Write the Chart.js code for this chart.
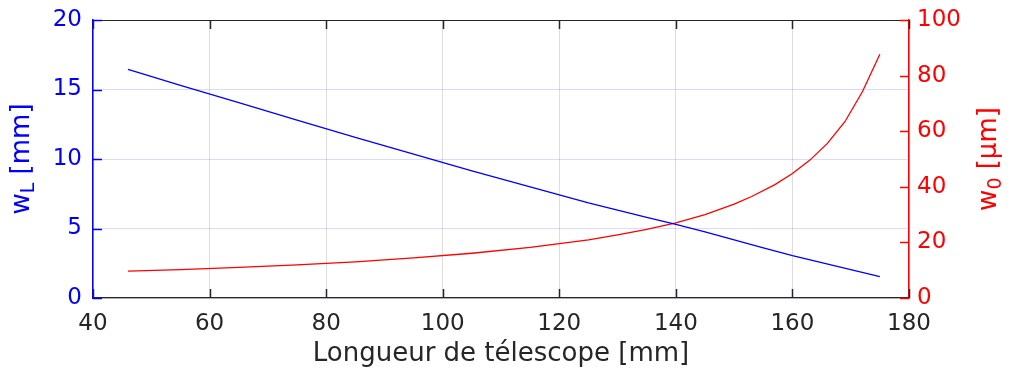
<!DOCTYPE html>
<html>
<head>
<meta charset="utf-8">
<script src="https://cdn.jsdelivr.net/npm/chart.js@4/dist/chart.umd.min.js"></script>
<style>
  body { margin: 0; background: #fff; }
  canvas { display: block; }
</style>
</head>
<body>
<canvas id="myChart" width="1011" height="370"></canvas>
<script>
// longueur de télescope [mm] et largeurs
const lengthL = [46, 55, 65, 75, 85, 95, 105, 115, 125, 135, 140, 145, 155, 160, 165, 175];
const waistL = [16.45, 15.3, 14.05, 12.8, 11.55, 10.35, 9.15, 8.0, 6.85, 5.8, 5.3, 4.75, 3.6, 3.04, 2.55, 1.53];

const length0 = [46, 55, 65, 75, 85, 95, 105, 115, 125, 130, 135, 140, 145, 150, 153, 157, 160, 163, 166, 169, 172, 175];
const waist0 = [9.7, 10.2, 11.0, 11.9, 13.0, 14.4, 16.1, 18.2, 20.9, 22.7, 24.7, 27.0, 30.0, 33.8, 36.5, 40.8, 44.8, 49.6, 55.6, 63.4, 74.2, 87.7];

const xTicks = [40, 60, 80, 100, 120, 140, 160, 180];
const leftTicks = [0, 5, 10, 15, 20];
const rightTicks = [0, 20, 40, 60, 80, 100];

const FONT = 'DejaVu Sans';
const DARK = '#262626';
const BLUE = '#0000ff';
const RED = '#ff0000';

const ctx = document.getElementById('myChart').getContext('2d');

// ticks vers l'intérieur, cadre du haut et titres des axes y avec indice
const frame = {
    id: 'frame',
    afterDraw(chart) {
        const c = chart.ctx;
        const a = chart.chartArea;
        const sx = chart.scales.x, sl = chart.scales.y, sr = chart.scales.y1;
        c.save();
        c.lineWidth = 1.2;
        c.strokeStyle = DARK;
        c.beginPath();
        c.moveTo(a.left, a.top + 0.5);
        c.lineTo(a.right, a.top + 0.5);
        c.stroke();
        c.lineWidth = 1.5;
        xTicks.forEach(v => {
            const px = Math.round(sx.getPixelForValue(v)) + 0.5;
            c.beginPath();
            c.moveTo(px, a.bottom); c.lineTo(px, a.bottom - 9);
            c.moveTo(px, a.top); c.lineTo(px, a.top + 9);
            c.stroke();
        });
        c.strokeStyle = BLUE;
        leftTicks.forEach(v => {
            const py = Math.round(sl.getPixelForValue(v)) + 0.5;
            c.beginPath(); c.moveTo(a.left, py); c.lineTo(a.left + 9, py); c.stroke();
        });
        c.strokeStyle = RED;
        rightTicks.forEach(v => {
            const py = Math.round(sr.getPixelForValue(v)) + 0.5;
            c.beginPath(); c.moveTo(a.right, py); c.lineTo(a.right - 9, py); c.stroke();
        });

        const cy = (a.top + a.bottom) / 2;
        drawLabel(c, 22, cy, [['w', 26, 0], ['L', 19, 7], [' [mm]', 26, 0]], BLUE);
        drawLabel(c, 989, cy, [['w', 26, 0], ['0', 19, 7], [' [µm]', 26, 0]], RED);
        c.restore();
    }
};

function drawLabel(c, x, y, parts, color) {
    c.save();
    c.translate(x, y);
    c.rotate(-Math.PI / 2);
    c.fillStyle = color;
    c.textBaseline = 'middle';
    c.textAlign = 'left';
    let total = 0;
    parts.forEach(p => { c.font = p[1] + 'px "' + FONT + '"'; total += c.measureText(p[0]).width; });
    let pos = -total / 2;
    parts.forEach(p => {
        c.font = p[1] + 'px "' + FONT + '"';
        c.fillText(p[0], pos, p[2]);
        pos += c.measureText(p[0]).width;
    });
    c.restore();
}

function fixWidth(w) {
    return s => { s.width = w; s.paddingTop = 0; s.paddingBottom = 0; };
}

new Chart(ctx, {
    type: 'line',
    data: {
        datasets: [{
            label: 'wL',
            data: lengthL.map((v, i) => ({ x: v, y: waistL[i] })),
            borderColor: BLUE,
            borderWidth: 1.3,
            pointRadius: 0,
            fill: false,
            yAxisID: 'y'
        }, {
            label: 'w0',
            data: length0.map((v, i) => ({ x: v, y: waist0[i] })),
            borderColor: RED,
            borderWidth: 1.3,
            pointRadius: 0,
            fill: false,
            yAxisID: 'y1'
        }]
    },
    options: {
        responsive: false,
        animation: false,
        layout: { padding: { top: 20, left: 0, right: 0, bottom: 0 } },
        plugins: { legend: { display: false }, tooltip: { enabled: false } },
        scales: {
            x: {
                type: 'linear',
                min: 40, max: 180,
                afterBuildTicks: s => { s.ticks = xTicks.map(v => ({ value: v })); },
                afterFit: s => { s.height = 72; s.paddingLeft = 0; s.paddingRight = 0; },
                ticks: { color: DARK, font: { family: FONT, size: 23 }, padding: 12, maxRotation: 0 },
                grid: { color: 'rgba(0,0,0,0.13)', drawTicks: false },
                border: { color: DARK, width: 1.2 },
                title: { display: true, text: 'Longueur de télescope [mm]', color: DARK, font: { family: FONT, size: 26 }, padding: { top: 0, bottom: 0 } }
            },
            y: {
                position: 'left',
                min: 0, max: 20,
                afterBuildTicks: s => { s.ticks = leftTicks.map(v => ({ value: v })); },
                afterFit: fixWidth(93),
                ticks: { color: BLUE, font: { family: FONT, size: 23 }, padding: 11 },
                grid: { color: 'rgba(0,0,255,0.14)', drawTicks: false },
                border: { color: BLUE, width: 1.5 }
            },
            y1: {
                position: 'right',
                min: 0, max: 100,
                afterBuildTicks: s => { s.ticks = rightTicks.map(v => ({ value: v })); },
                afterFit: fixWidth(102),
                ticks: { color: RED, font: { family: FONT, size: 23 }, padding: 8 },
                grid: { display: false, drawTicks: false },
                border: { color: RED, width: 1.5 }
            }
        }
    },
    plugins: [frame]
});
</script>
</body>
</html>
